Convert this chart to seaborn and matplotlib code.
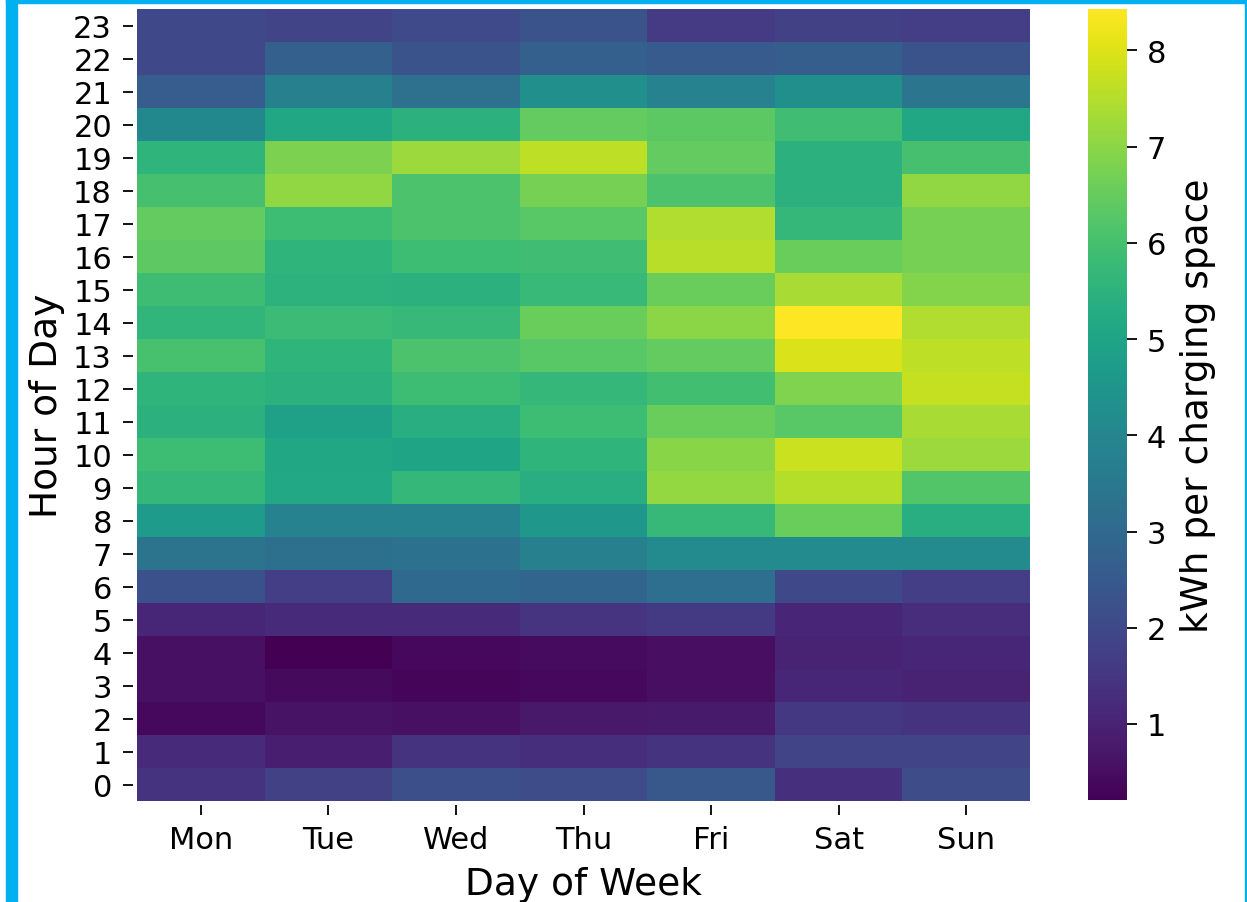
import numpy as np
import pandas as pd
import matplotlib
matplotlib.use("Agg")
import matplotlib.pyplot as plt
import seaborn as sns
from matplotlib.patches import Rectangle

days = ["Mon", "Tue", "Wed", "Thu", "Fri", "Sat", "Sun"]
hours = list(range(24))

# kWh per charging space, rows = hour 0..23, columns = Mon..Sun
mon = [1.40, 1.20, 0.40, 0.55, 0.55, 1.10, 2.25, 3.35, 4.70, 5.70, 5.85, 5.45,
       5.55, 6.05, 5.60, 5.88, 6.40, 6.45, 6.00, 5.55, 4.05, 2.60, 2.00, 2.00]
tue = [1.80, 0.90, 0.60, 0.42, 0.21, 1.20, 1.70, 3.20, 3.85, 5.15, 5.10, 4.90,
       5.45, 5.55, 5.80, 5.50, 5.55, 5.85, 7.05, 6.80, 5.10, 3.75, 2.70, 1.85]
wed = [2.20, 1.40, 0.55, 0.32, 0.40, 1.20, 3.00, 3.30, 3.85, 5.70, 5.00, 5.35,
       5.85, 6.10, 5.72, 5.45, 5.85, 6.10, 6.10, 7.20, 5.45, 3.25, 2.30, 2.05]
thu = [2.10, 1.30, 0.75, 0.40, 0.45, 1.45, 2.85, 3.75, 4.60, 5.35, 5.55, 5.85,
       5.70, 6.30, 6.55, 5.75, 5.90, 6.30, 6.70, 7.60, 6.45, 4.30, 2.70, 2.30]
fri = [2.45, 1.40, 0.78, 0.52, 0.50, 1.60, 3.15, 4.10, 5.72, 7.10, 6.98, 6.55,
       5.95, 6.45, 7.00, 6.55, 7.55, 7.45, 6.10, 6.45, 6.35, 3.85, 2.55, 1.65]
sat = [1.35, 1.85, 1.55, 1.10, 1.00, 1.05, 2.00, 4.10, 6.55, 7.50, 7.78, 6.30,
       6.85, 7.95, 8.43, 7.35, 6.55, 5.70, 5.45, 5.45, 5.90, 4.30, 2.65, 1.80]
sun = [2.10, 1.85, 1.40, 1.00, 1.10, 1.25, 1.70, 4.10, 5.35, 6.20, 7.20, 7.35,
       7.70, 7.60, 7.45, 6.90, 6.70, 6.70, 7.05, 6.00, 5.10, 3.40, 2.30, 1.70]

df = pd.DataFrame({"Mon": mon, "Tue": tue, "Wed": wed, "Thu": thu,
                   "Fri": fri, "Sat": sat, "Sun": sun}, index=hours)[days]

W, H = 1247, 903
fig = plt.figure(figsize=(W / 100, H / 100), dpi=100)
ax = fig.add_axes([137 / W, 1 - 802 / H, (1030 - 137) / W, (802 - 10) / H])
cax = fig.add_axes([1088 / W, 1 - 801 / H, 39 / W, (801 - 10) / H])

sns.heatmap(df, ax=ax, cbar_ax=cax, cmap="viridis",
            cbar_kws={"label": "kWh per charging space"})
ax.invert_yaxis()

ax.set_xlabel("Day of Week", fontsize=27, labelpad=9)
ax.set_ylabel("Hour of Day", fontsize=27, labelpad=6)
ax.tick_params(axis="both", labelsize=22, length=7, width=1.3)
ax.tick_params(axis="y", pad=8)
ax.tick_params(axis="x", pad=7)
ax.set_yticklabels([str(h) for h in hours], rotation=0)
ax.set_xticklabels(days, rotation=0)
for s in ("left", "bottom"):
    ax.spines[s].set_position(("outward", 3))

cax.tick_params(labelsize=22, length=7, width=1.3, pad=7)
cax.yaxis.label.set_size(27)
cax.yaxis.labelpad = 10

# cyan frame of the picture
blue = "#00b0f0"
fig.patches.append(Rectangle((6 / W, 0), 11 / W, 1, transform=fig.transFigure,
                             color=blue, zorder=10))
fig.patches.append(Rectangle((6 / W, 1 - 4 / H), 1 - 6 / W, 4 / H,
                             transform=fig.transFigure, color=blue, zorder=10))
fig.patches.append(Rectangle((1245 / W, 0), 2 / W, 1, transform=fig.transFigure,
                             color=blue, zorder=10))

fig.savefig("out.png", dpi=100)
